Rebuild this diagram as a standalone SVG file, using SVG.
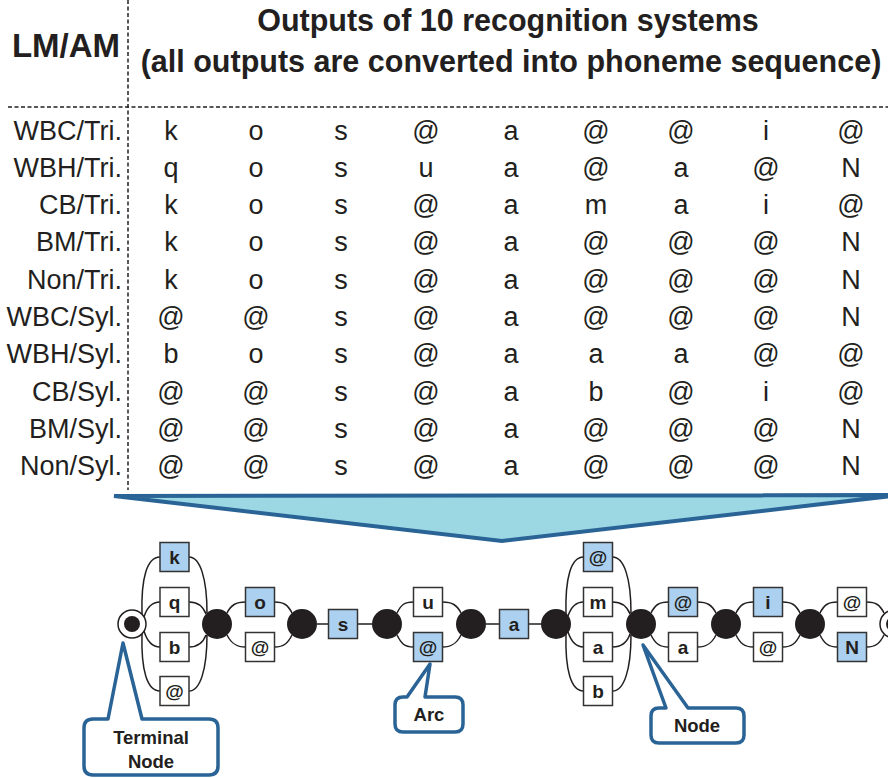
<svg xmlns="http://www.w3.org/2000/svg" width="888" height="778" viewBox="0 0 888 778">
<defs>
<style>
.hd{font-family:"Liberation Sans",Arial,sans-serif;font-weight:bold;fill:#231f20}
.tb{font-family:"Liberation Sans",Arial,sans-serif;font-size:27px;fill:#231f20}
.lb{text-anchor:end}
.c{text-anchor:middle}
.dash{stroke:#231f20;stroke-width:1.5;stroke-dasharray:4 2.5;fill:none}
.box{stroke:#333;stroke-width:1.5}
.w{fill:#fff}
.bl{fill:#acd0ef}
.bt{font-family:"Liberation Sans",Arial,sans-serif;font-weight:bold;font-size:19px;fill:#231f20;text-anchor:middle}
.nd{fill:#231f20}
.arc{fill:none;stroke:#231f20;stroke-width:1.5}
.call{fill:#fff;stroke:#2a6496;stroke-width:3.5;stroke-linejoin:round}
.ct{font-family:"Liberation Sans",Arial,sans-serif;font-weight:bold;font-size:18.5px;fill:#231f20;text-anchor:middle}
</style>
</defs>
<rect width="888" height="778" fill="#fff"/>

<g id="header">
<text class="hd c" x="66" y="57" font-size="33">LM/AM</text>
<text class="hd c" x="508" y="31" font-size="30.5">Outputs of 10 recognition systems</text>
<text class="hd c" x="511" y="72" font-size="30.5">(all outputs are converted into phoneme sequence)</text>
<line class="dash" x1="128" y1="0" x2="128" y2="490"/>
<line class="dash" x1="8" y1="107" x2="888" y2="107"/>
</g>

<g id="table" class="tb">
<text class="lb" x="122" y="139.5">WBC/Tri.</text>
<text class="lb" x="122" y="176.8">WBH/Tri.</text>
<text class="lb" x="122" y="214.1">CB/Tri.</text>
<text class="lb" x="122" y="251.4">BM/Tri.</text>
<text class="lb" x="122" y="288.7">Non/Tri.</text>
<text class="lb" x="122" y="326">WBC/Syl.</text>
<text class="lb" x="122" y="363.3">WBH/Syl.</text>
<text class="lb" x="122" y="400.6">CB/Syl.</text>
<text class="lb" x="122" y="437.9">BM/Syl.</text>
<text class="lb" x="122" y="475.2">Non/Syl.</text>
<g class="c">
<text y="139.5"><tspan x="171">k</tspan><tspan x="256">o</tspan><tspan x="341">s</tspan><tspan x="426">@</tspan><tspan x="511">a</tspan><tspan x="596">@</tspan><tspan x="681">@</tspan><tspan x="766">i</tspan><tspan x="851">@</tspan></text>
<text y="176.8"><tspan x="171">q</tspan><tspan x="256">o</tspan><tspan x="341">s</tspan><tspan x="426">u</tspan><tspan x="511">a</tspan><tspan x="596">@</tspan><tspan x="681">a</tspan><tspan x="766">@</tspan><tspan x="851">N</tspan></text>
<text y="214.1"><tspan x="171">k</tspan><tspan x="256">o</tspan><tspan x="341">s</tspan><tspan x="426">@</tspan><tspan x="511">a</tspan><tspan x="596">m</tspan><tspan x="681">a</tspan><tspan x="766">i</tspan><tspan x="851">@</tspan></text>
<text y="251.4"><tspan x="171">k</tspan><tspan x="256">o</tspan><tspan x="341">s</tspan><tspan x="426">@</tspan><tspan x="511">a</tspan><tspan x="596">@</tspan><tspan x="681">@</tspan><tspan x="766">@</tspan><tspan x="851">N</tspan></text>
<text y="288.7"><tspan x="171">k</tspan><tspan x="256">o</tspan><tspan x="341">s</tspan><tspan x="426">@</tspan><tspan x="511">a</tspan><tspan x="596">@</tspan><tspan x="681">@</tspan><tspan x="766">@</tspan><tspan x="851">N</tspan></text>
<text y="326"><tspan x="171">@</tspan><tspan x="256">@</tspan><tspan x="341">s</tspan><tspan x="426">@</tspan><tspan x="511">a</tspan><tspan x="596">@</tspan><tspan x="681">@</tspan><tspan x="766">@</tspan><tspan x="851">N</tspan></text>
<text y="363.3"><tspan x="171">b</tspan><tspan x="256">o</tspan><tspan x="341">s</tspan><tspan x="426">@</tspan><tspan x="511">a</tspan><tspan x="596">a</tspan><tspan x="681">a</tspan><tspan x="766">@</tspan><tspan x="851">@</tspan></text>
<text y="400.6"><tspan x="171">@</tspan><tspan x="256">@</tspan><tspan x="341">s</tspan><tspan x="426">@</tspan><tspan x="511">a</tspan><tspan x="596">b</tspan><tspan x="681">@</tspan><tspan x="766">i</tspan><tspan x="851">@</tspan></text>
<text y="437.9"><tspan x="171">@</tspan><tspan x="256">@</tspan><tspan x="341">s</tspan><tspan x="426">@</tspan><tspan x="511">a</tspan><tspan x="596">@</tspan><tspan x="681">@</tspan><tspan x="766">@</tspan><tspan x="851">N</tspan></text>
<text y="475.2"><tspan x="171">@</tspan><tspan x="256">@</tspan><tspan x="341">s</tspan><tspan x="426">@</tspan><tspan x="511">a</tspan><tspan x="596">@</tspan><tspan x="681">@</tspan><tspan x="766">@</tspan><tspan x="851">N</tspan></text>
</g>
</g>

<g id="funnel">
<polygon points="114,496 900,495 502,541" fill="#9cd8e3" stroke="#2a6496" stroke-width="4" stroke-linejoin="miter"/>
</g>

<g id="connectors">
<path class="arc" d="M142,614 C141,578 147,557 160,557 M189,557 C200,557 207,578 207,613 M144,617 C147,607 152,602 160,602 M189,602 C197,602 203,606 206,614 M144,631 C147,641 152,647 160,647 M189,647 C197,647 203,643 206,635 M142,634 C141,670 147,691 160,691 M189,691 C200,691 207,670 207,635"/>
<path class="arc" d="M566,614 C565,578 571,557 583.5,557 M612.5,557 C624,557 631,578 631,613 M568,616 C571,607 576,602 583.5,602 M612.5,602 C621,602 627,606 630,614 M568,632 C571,641 576,647 583.5,647 M612.5,647 C621,647 627,643 630,634 M566,634 C565,670 571,691 583.5,691 M612.5,691 C624,691 631,670 631,635"/>
<path class="arc" d="M227,613 C231,605 236,602 245.5,602 M274.5,602 C284,602 288,605 292,613 M227,635 C231,643 236,647 245.5,647 M274.5,647 C284,647 288,643 292,635"/>
<path class="arc" d="M397,613 C401,605 404,602 413.5,602 M442.5,602 C452,602 457,605 461,613 M397,635 C401,643 404,647 413.5,647 M442.5,647 C452,647 457,643 461,635"/>
<path class="arc" d="M651,613 C655,605 659,602 668.5,602 M697.5,602 C707,602 712,605 716,613 M651,635 C655,643 659,647 668.5,647 M697.5,647 C707,647 712,643 716,635"/>
<path class="arc" d="M736,613 C740,605 744,602 753.5,602 M782.5,602 C792,602 796,605 800,613 M736,635 C740,643 744,647 753.5,647 M782.5,647 C792,647 796,643 800,635"/>
<path class="arc" d="M820,613 C824,605 828,602 837.5,602 M866.5,602 C876,602 880,605 884,613 M820,635 C824,643 828,647 837.5,647 M866.5,647 C876,647 880,643 884,635"/>
<path class="arc" d="M317,624 H328.5 M357.5,624 H372 M486,624 H499.5 M528.5,624 H541"/>
</g>

<g id="node-start"><circle cx="132" cy="624" r="14" fill="#fff" stroke="#231f20" stroke-width="1.5"/><circle class="nd" cx="132" cy="624" r="8"/></g>
<g id="node-1"><circle class="nd" cx="217" cy="624" r="15"/></g>
<g id="node-2"><circle class="nd" cx="302" cy="624" r="15"/></g>
<g id="node-3"><circle class="nd" cx="387" cy="624" r="15"/></g>
<g id="node-4"><circle class="nd" cx="471" cy="624" r="15"/></g>
<g id="node-5"><circle class="nd" cx="556" cy="624" r="15"/></g>
<g id="node-6"><circle class="nd" cx="641" cy="624" r="15"/></g>
<g id="node-7"><circle class="nd" cx="726" cy="624" r="15"/></g>
<g id="node-8"><circle class="nd" cx="810" cy="624" r="15"/></g>
<g id="node-end"><circle cx="894" cy="624" r="14" fill="#fff" stroke="#231f20" stroke-width="1.5"/><circle class="nd" cx="894" cy="624" r="8"/></g>

<g id="arc-k"><rect class="box bl" x="160" y="542.5" width="29" height="29"/><text class="bt" x="174.5" y="564">k</text></g>
<g id="arc-q"><rect class="box w" x="160" y="587.5" width="29" height="29"/><text class="bt" x="174.5" y="609">q</text></g>
<g id="arc-b1"><rect class="box w" x="160" y="632.5" width="29" height="29"/><text class="bt" x="174.5" y="654">b</text></g>
<g id="arc-at1"><rect class="box w" x="160" y="676.5" width="29" height="29"/><text class="bt" x="174.5" y="698">@</text></g>

<g id="arc-o"><rect class="box bl" x="245.5" y="587.5" width="29" height="29"/><text class="bt" x="260" y="609">o</text></g>
<g id="arc-at2"><rect class="box w" x="245.5" y="632.5" width="29" height="29"/><text class="bt" x="260" y="654">@</text></g>

<g id="arc-s"><rect class="box bl" x="328.5" y="609.5" width="29" height="29"/><text class="bt" x="343" y="631">s</text></g>

<g id="arc-u"><rect class="box w" x="413.5" y="587.5" width="29" height="29"/><text class="bt" x="428" y="609">u</text></g>
<g id="arc-at3"><rect class="box bl" x="413.5" y="632.5" width="29" height="29"/><text class="bt" x="428" y="654">@</text></g>

<g id="arc-a1"><rect class="box bl" x="499.5" y="609.5" width="29" height="29"/><text class="bt" x="514" y="631">a</text></g>

<g id="arc-at4"><rect class="box bl" x="583.5" y="542.5" width="29" height="29"/><text class="bt" x="598" y="564">@</text></g>
<g id="arc-m"><rect class="box w" x="583.5" y="587.5" width="29" height="29"/><text class="bt" x="598" y="609">m</text></g>
<g id="arc-a2"><rect class="box w" x="583.5" y="632.5" width="29" height="29"/><text class="bt" x="598" y="654">a</text></g>
<g id="arc-b2"><rect class="box w" x="583.5" y="676.5" width="29" height="29"/><text class="bt" x="598" y="698">b</text></g>

<g id="arc-at5"><rect class="box bl" x="668.5" y="587.5" width="29" height="29"/><text class="bt" x="683" y="609">@</text></g>
<g id="arc-a3"><rect class="box w" x="668.5" y="632.5" width="29" height="29"/><text class="bt" x="683" y="654">a</text></g>

<g id="arc-i"><rect class="box bl" x="753.5" y="587.5" width="29" height="29"/><text class="bt" x="768" y="609">i</text></g>
<g id="arc-at6"><rect class="box w" x="753.5" y="632.5" width="29" height="29"/><text class="bt" x="768" y="654">@</text></g>

<g id="arc-at7"><rect class="box w" x="837.5" y="587.5" width="29" height="29"/><text class="bt" x="852" y="609">@</text></g>
<g id="arc-N"><rect class="box bl" x="837.5" y="632.5" width="29" height="29"/><text class="bt" x="852" y="654">N</text></g>

<g id="callout-terminal">
<path class="call" d="M93,719 L108,719 L123,643 L142,719 L209,719 Q218,719 218,728 L218,766 Q218,775 209,775 L93,775 Q84,775 84,766 L84,728 Q84,719 93,719 Z"/>
<text class="ct" x="151" y="744">Terminal</text>
<text class="ct" x="151" y="768">Node</text>
</g>
<g id="callout-arc">
<path class="call" d="M403,697 L407,697 L430,664 L425,697 L455,697 Q463,697 463,705 L463,724 Q463,732 455,732 L403,732 Q395,732 395,724 L395,705 Q395,697 403,697 Z"/>
<text class="ct" x="429" y="721">Arc</text>
</g>
<g id="callout-node">
<path class="call" d="M659,708 L666,708 L643,645 L688,708 L736,708 Q744,708 744,716 L744,735 Q744,743 736,743 L659,743 Q651,743 651,735 L651,716 Q651,708 659,708 Z"/>
<text class="ct" x="697" y="732">Node</text>
</g>
</svg>
